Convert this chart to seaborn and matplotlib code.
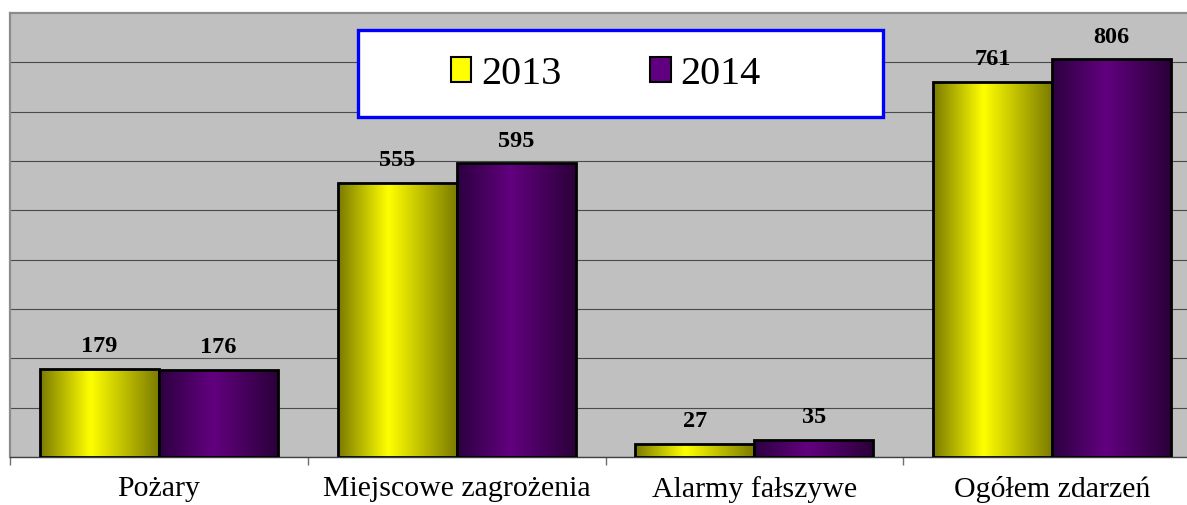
import matplotlib
matplotlib.use("Agg")
import matplotlib.pyplot as plt
import seaborn as sns
import numpy as np
import pandas as pd
from matplotlib.colors import LinearSegmentedColormap
from matplotlib.patches import Rectangle, Patch

# data
kategorie = ['Pożary', 'Miejscowe zagrożenia', 'Alarmy fałszywe', 'Ogółem zdarzeń']
lata = ['2013', '2014']
wartosci_2013 = [179, 555, 27, 761]
wartosci_2014 = [176, 595, 35, 806]

df = pd.DataFrame({
    'kategoria': kategorie * 2,
    'rok': [lata[0]] * 4 + [lata[1]] * 4,
    'wartosc': wartosci_2013 + wartosci_2014,
})

sns.set_theme(style="white")
plt.rcParams['font.family'] = ['Liberation Serif', 'DejaVu Serif']
plt.rcParams['text.color'] = 'black'
plt.rcParams['xtick.color'] = 'black'

W, H = 1187, 505
fig = plt.figure(figsize=(W / 100, H / 100), dpi=100)
# plot area runs a bit past the right edge, as in the original
ax = fig.add_axes([10 / W, 48 / H, 1191 / W, 444 / H])
ax.set_facecolor('#C0C0C0')

kolory = {'2013': '#FFFF00', '2014': '#600080'}
sns.barplot(data=df, x='kategoria', y='wartosc', hue='rok', palette=kolory,
            edgecolor='black', linewidth=2.0, width=0.8, legend=False, ax=ax,
            zorder=3)

# cylinder-like horizontal gradients on the bars
gradienty = [
    LinearSegmentedColormap.from_list('zolty', [(0, '#7A7A00'), (0.42, '#FFFF00'), (1, '#7A7A00')]),
    LinearSegmentedColormap.from_list('fiolet', [(0, '#2C0040'), (0.45, '#62007F'), (1, '#2A0038')]),
]
grad = np.linspace(0, 1, 256).reshape(1, -1)
for cont, cmap in zip(ax.containers, gradienty):
    for bar in cont:
        x0, y0 = bar.get_x(), bar.get_y()
        w, h = bar.get_width(), bar.get_height()
        im = ax.imshow(grad, cmap=cmap, aspect='auto', extent=[x0, x0 + w, y0, y0 + h],
                       zorder=3.5, interpolation='bicubic')
        im.set_clip_path(bar)
        bar.set_facecolor('none')
        bar.set_zorder(4)
        ax.annotate(f'{int(h)}', (x0 + w / 2, h), xytext=(0, 8.5),
                    textcoords='offset points', ha='center', va='bottom',
                    fontsize=17.5, fontweight='bold', color='black')

ax.set_xlim(-0.5, 3.5)
ax.set_ylim(0, 900)
ax.set_yticks(range(0, 900, 100))
ax.yaxis.grid(True, color='#4A4A4A', linewidth=0.8)
ax.set_axisbelow(True)
ax.tick_params(axis='y', left=False, labelleft=False)
ax.set_xlabel('')
ax.set_ylabel('')
ax.set_xticks(range(4))
ax.set_xticklabels(kategorie, fontsize=21.5, color='black')
ax.set_xticks([-0.5, 0.5, 1.5, 2.5, 3.5], minor=True)
ax.tick_params(axis='x', which='major', length=0, pad=13.5, labelcolor='black')
ax.tick_params(axis='x', which='minor', length=6, width=1, color='#707070', direction='out', bottom=True)

ax.spines['right'].set_visible(False)
ax.spines['top'].set_color('#8C8C8C')
ax.spines['top'].set_linewidth(1.6)
ax.spines['left'].set_color('#8C8C8C')
ax.spines['left'].set_linewidth(1.6)
ax.spines['bottom'].set_color('#404040')
ax.spines['bottom'].set_linewidth(1.0)

# legend: blue framed white box drawn separately
ramka = Rectangle((358 / W, 1 - 117 / H), 525 / W, 87 / H, transform=fig.transFigure,
                  facecolor='white', edgecolor='#0000FF', linewidth=2.4, zorder=4)
fig.patches.append(ramka)
uchwyty = [Patch(facecolor=kolory[r], edgecolor='black', linewidth=1.5, label=r) for r in lata]
leg = fig.legend(handles=uchwyty, loc='center', bbox_to_anchor=(606 / W, 1 - 74 / H),
                 ncol=2, frameon=False, fontsize=29, handlelength=0.5, handleheight=0.58,
                 handletextpad=0.25, columnspacing=2.2, borderpad=0)
for t in leg.get_texts():
    t.set_color('black')

fig.savefig('out.png', dpi=100)
